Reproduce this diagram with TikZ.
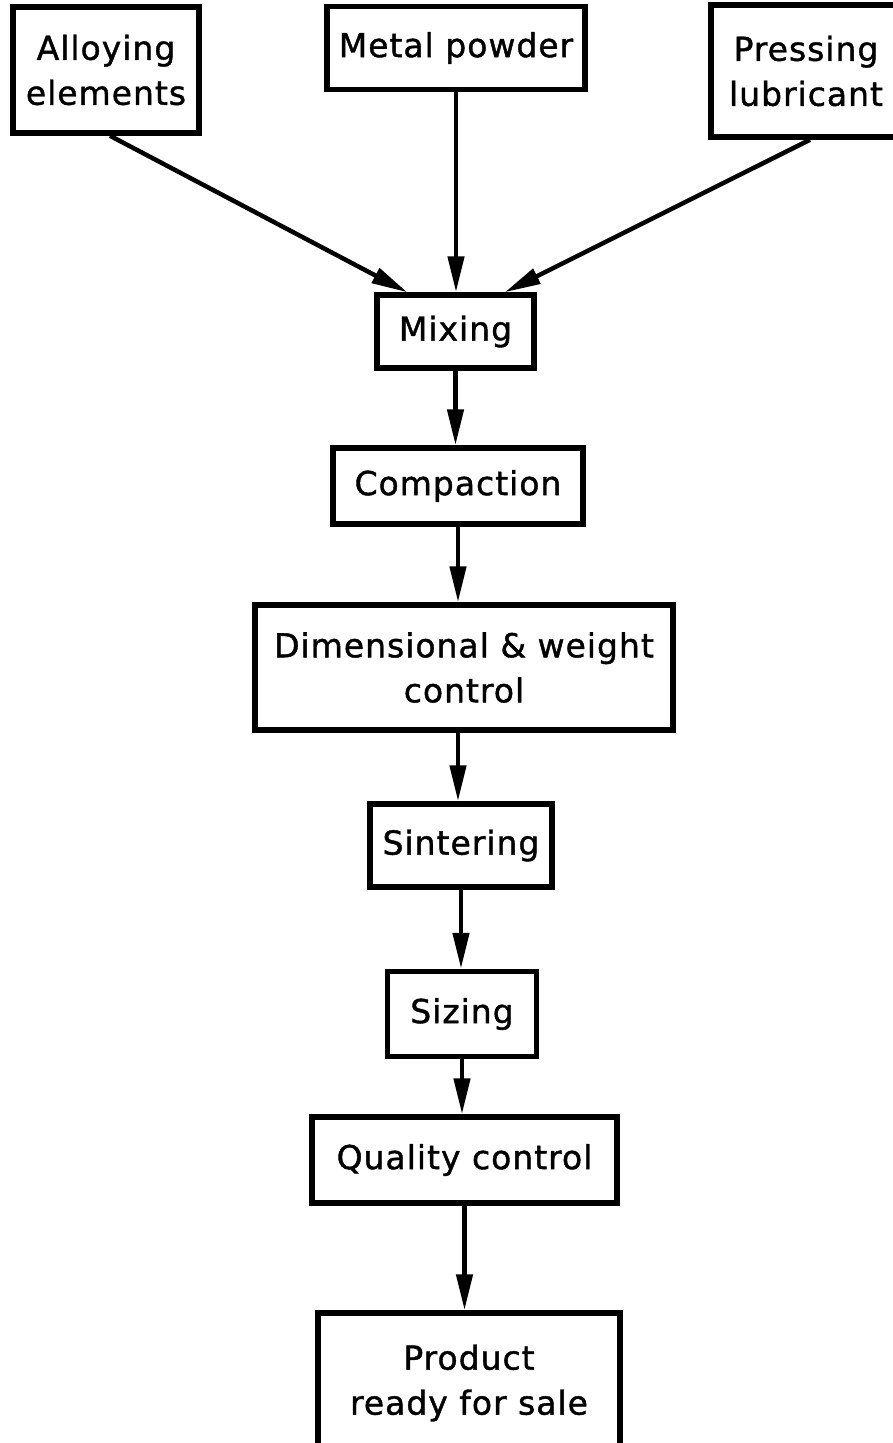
\documentclass[tikz,border=0pt]{standalone}
\usepackage{fontspec}
\setmainfont[LetterSpace=3,FakeBold=1.2]{DejaVu Sans}
\usetikzlibrary{arrows.meta}
\begin{document}
\begin{tikzpicture}[x=1pt,y=-1pt,
  box/.style={draw, line width=5.5pt, inner sep=0pt, align=center,
    font=\fontsize{33}{45}\selectfont},
  arr/.style={line width=4.5pt, -{Triangle[length=36pt,width=16pt]}}]
\useasboundingbox (0,0) rectangle (893,1443);
\clip (0,0) rectangle (893,1443);
\fill[white] (0,0) rectangle (893,1443);
\node[box, minimum width=186pt, minimum height=126pt] (alloy) at (106,70) {Alloying\\elements};
\node[box, minimum width=258pt, minimum height=83pt] (metal) at (456,48) {Metal powder};
\node[box, minimum width=190pt, minimum height=132pt] (press) at (806,71) {Pressing\\lubricant};
\node[box, minimum width=157pt, minimum height=73pt] (mix) at (455.5,331.5) {Mixing};
\node[box, minimum width=250pt, minimum height=76pt] (comp) at (458,486) {Compaction};
\node[box, minimum width=418pt, minimum height=125pt] (dim) at (464,667.5) {Dimensional \& weight\\control};
\node[box, minimum width=182pt, minimum height=83pt] (sint) at (461,845.5) {Sintering};
\node[box, minimum width=149pt, minimum height=85pt] (size) at (462,1014) {Sizing};
\node[box, minimum width=305pt, minimum height=86pt] (qual) at (464.5,1160) {Quality control};
\node[box, minimum width=302pt, minimum height=140pt] (prod) at (469,1383) {Product\\ready for sale};
\draw[arr] ([xshift=4pt]alloy.south) -- ([xshift=33pt]mix.north west);
\draw[arr] (metal.south) -- (metal.south |- mix.north);
\draw[arr] ([xshift=4pt]press.south) -- ([xshift=-32pt]mix.north east);
\draw[arr] (mix.south) -- (mix.south |- comp.north);
\draw[arr] (comp.south) -- (comp.south |- dim.north);
\draw[arr] ([xshift=-6pt]dim.south) -- ([xshift=-6pt]dim.south |- sint.north);
\draw[arr] (sint.south) -- (sint.south |- size.north);
\draw[arr] (size.south) -- (size.south |- qual.north);
\draw[arr] (qual.south) -- (qual.south |- prod.north);
\end{tikzpicture}
\end{document}
